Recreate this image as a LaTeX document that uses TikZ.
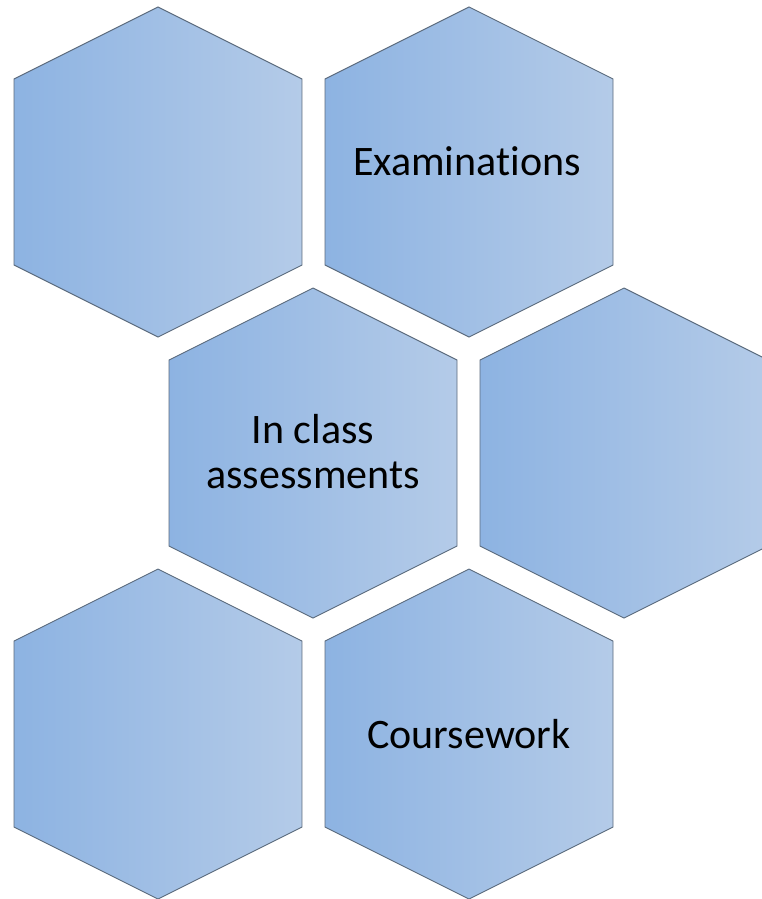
\documentclass[tikz,border=0pt]{standalone}
\usepackage{fontspec}
\setmainfont[Ligatures=NoCommon]{Carlito}
\definecolor{hexL}{HTML}{8DB3E2}
\definecolor{hexR}{HTML}{B4CBE8}
\definecolor{hexEdge}{HTML}{5A6A7C}
\begin{document}
\begin{tikzpicture}[x=1pt,y=-1pt,
  hexlabel/.style={align=center,text=black,font=\fontsize{42}{45}\selectfont,inner sep=0pt}]
\useasboundingbox (0,0) rectangle (762,899);
\foreach \cx/\cy in {158/172, 469/172, 313/453, 624/453, 158/734, 469/734}{
  \shade[left color=hexL, right color=hexR, draw=hexEdge, line width=0.9pt, line join=miter]
    (\cx,\cy-165) -- (\cx+144,\cy-93) -- (\cx+144,\cy+93) -- (\cx,\cy+165)
    -- (\cx-144,\cy+93) -- (\cx-144,\cy-93) -- cycle;
}
\node[hexlabel] (exam) at (467,161) {Examinations};
\node[hexlabel] (inclass) at (313,452) {In class\\assessments};
\node[hexlabel] (course) at (469,734) {Coursework};
\end{tikzpicture}
\end{document}
